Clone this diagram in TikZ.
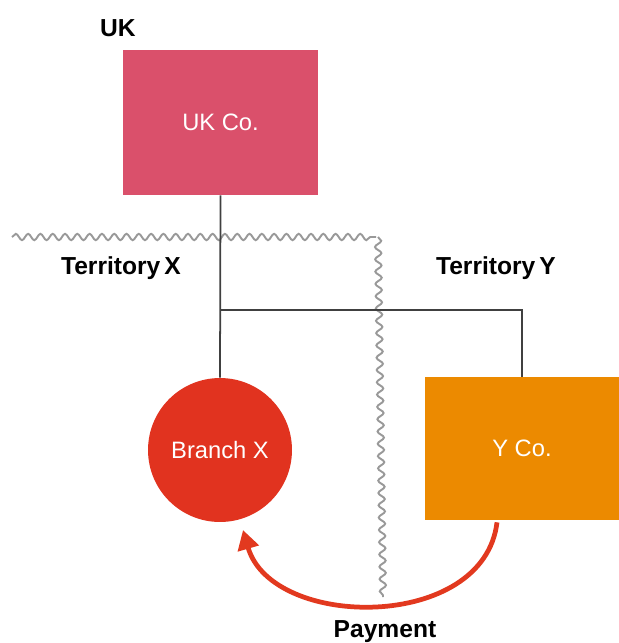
\documentclass[tikz,border=0pt]{standalone}
\usepackage{fontspec}
\setmainfont{Liberation Sans}
\usepackage{xcolor}
\usetikzlibrary{arrows.meta,positioning,calc,decorations.pathmorphing}
\definecolor{ukpink}{HTML}{DA506B}
\definecolor{branchred}{HTML}{E1331F}
\definecolor{yorange}{HTML}{EC8A00}
\definecolor{payred}{HTML}{E2391F}

\begin{document}
\begin{tikzpicture}[x=0.02cm, y=-0.02cm,
  every node/.style={font=\fontsize{13.5}{16}\selectfont},
  cobox/.style={rectangle, draw=none, text=white, minimum width=3.9cm, minimum height=2.9cm},
  lbl/.style={font=\fontsize{14}{16}\selectfont\bfseries},
  link/.style={draw=black!75, line width=1pt},
  border/.style={draw=black!40, line width=1.1pt, decorate,
    decoration={snake, amplitude=1.8pt, segment length=7pt}}]
  \useasboundingbox (0,0) rectangle (619,643);
  % ---- companies ----
  \node[cobox, fill=ukpink] (uk) at (220.5,122.5) {UK Co.};
  \node[circle, fill=branchred, text=white, minimum size=2.88cm, inner sep=0pt] (branchx) at (220,450) {Branch X};
  \node[cobox, fill=yorange, minimum width=3.88cm, minimum height=2.86cm] (yco) at (522,448.5) {Y Co.};
  % ---- territory borders ----
  \draw[border] (12,237) -- (376,237);
  \draw[border] (378,237) -- (383,597);
  % ---- ownership lines ----
  \coordinate (split) at (uk.south |- 0,310);
  \draw[link] (uk.south) -- (branchx.north);
  \draw[link] (split) -| (yco.north);
  % ---- payment ----
  \coordinate (payfrom) at ($(yco.south)+(-25,2)$);
  \draw[payred, line width=2.7pt, -{Triangle[length=11pt,width=12pt]}]
    (payfrom) .. controls (484,632) and (272,630) .. (243,530);
  % ---- labels ----
  \node[lbl] (uklbl) at (118,28) {UK};
  \node[lbl] (terrx) at (121,268) {Territory\,X};
  \node[lbl] (terry) at (496,268) {Territory\,Y};
  \node[lbl] (pay) at (385,632) {Payment};
\end{tikzpicture}
\end{document}
